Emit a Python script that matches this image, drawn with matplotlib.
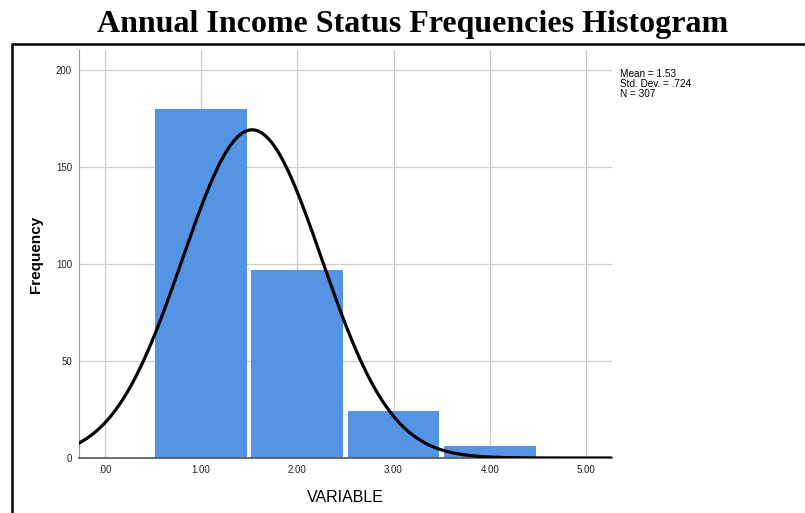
import numpy as np
import matplotlib
matplotlib.use("Agg")
import matplotlib.pyplot as plt
from matplotlib.patches import Rectangle

# histogram values
categories = [1, 2, 3, 4]
counts = [180, 97, 24, 6]
mean_val = 1.53
std_val = 0.724
n_val = 307
xticks = [0, 1, 2, 3, 4, 5]
xtick_labels = [".00", "1.00", "2.00", "3.00", "4.00", "5.00"]
yticks = [0, 50, 100, 150, 200]

plt.rcParams["font.family"] = ["Liberation Sans", "DejaVu Sans"]

fig = plt.figure(figsize=(8.05, 5.13), dpi=100)
ax = fig.add_axes([0.0981, 0.1072, 0.662, 0.7953])

ax.bar(categories, counts, width=0.955, color="#5594e4", linewidth=0, zorder=2)

# normal curve scaled to counts (bin width 1)
xs = np.linspace(-0.27, 5.27, 400)
ys = n_val / (std_val * np.sqrt(2 * np.pi)) * np.exp(-0.5 * ((xs - mean_val) / std_val) ** 2)
ax.plot(xs, ys, color="black", linewidth=2.3, zorder=3)

ax.set_xlim(-0.27, 5.27)
ax.set_ylim(0, 210.3)
ax.set_xticks(xticks)
ax.set_xticklabels(xtick_labels)
ax.set_yticks(yticks)
ax.tick_params(axis="both", length=0, labelsize=7, colors="#222222", pad=5)
ax.grid(True, color="#cccccc", linewidth=0.9, zorder=0)
ax.set_axisbelow(True)
for side in ["top", "right"]:
    ax.spines[side].set_visible(False)
ax.spines["left"].set_color("#999999")
ax.spines["bottom"].set_color("#555555")
ax.spines["bottom"].set_linewidth(1.2)

ax.set_xlabel("VARIABLE", fontsize=11.5, labelpad=11)
ax.set_ylabel("Frequency", fontsize=11, fontweight="bold", labelpad=9)

fig.text(0.770, 0.865, "Mean = 1.53\nStd. Dev. = .724\nN = 307",
         fontsize=7.2, va="top", ha="left", linespacing=1.0)

fig.text(0.513, 0.952, "Annual Income Status Frequencies Histogram",
         fontsize=23, fontweight="bold", family="Liberation Serif",
         ha="center", va="center")

# outer frame, extends past the right and bottom edges
fig.patches.append(Rectangle((12 / 805, -0.2), 1.2, 0.2 + 1 - 44 / 513,
                             transform=fig.transFigure, fill=False,
                             edgecolor="black", linewidth=1.8))

fig.savefig("out.png", dpi=100)
